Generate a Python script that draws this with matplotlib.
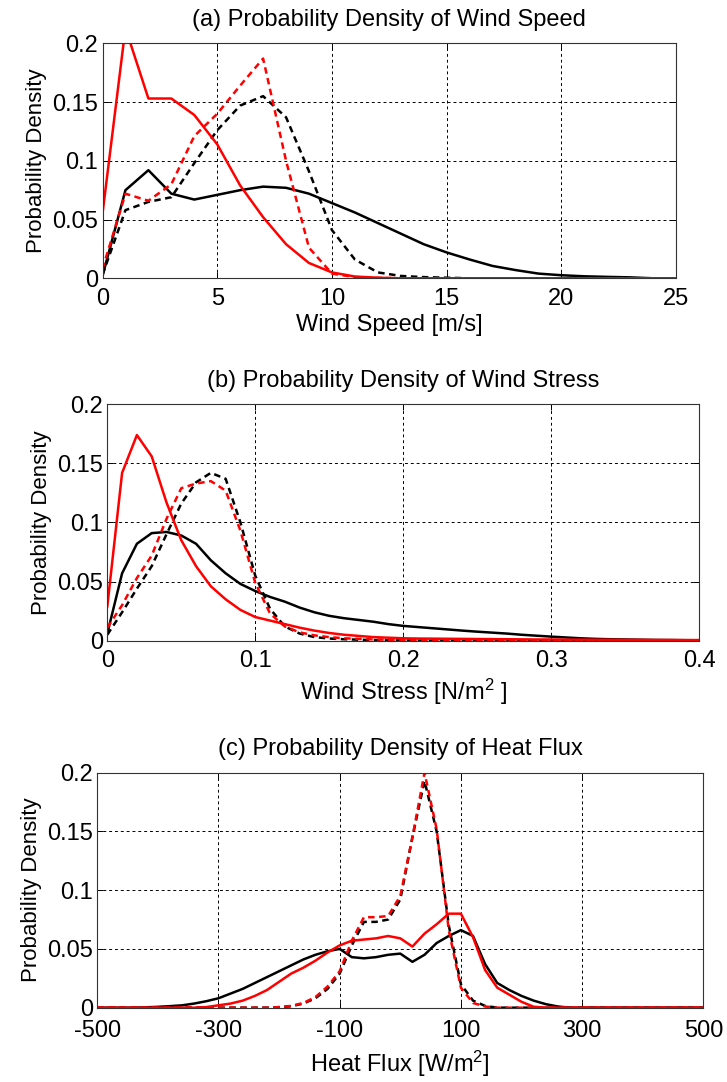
"""
Three stacked probability-density panels: wind speed, wind stress, heat flux.
Solid / dashed, black / red curves per panel.
"""
import numpy as np
import matplotlib
matplotlib.use("Agg")
import matplotlib.pyplot as plt

plt.rcParams["font.family"] = ["Liberation Sans", "DejaVu Sans"]
plt.rcParams["mathtext.fontset"] = "custom"
plt.rcParams["mathtext.rm"] = "Liberation Sans"
plt.rcParams["mathtext.it"] = "Liberation Sans:italic"

FS = 17      # titles, x labels, tick labels
FS_Y = 16    # y label

# ---- (a) wind speed, 1 m/s bins
speed_x = np.arange(0, 26, 1)
speed_black_solid = [0.002, 0.075, 0.092, 0.072, 0.067, 0.071, 0.075, 0.078, 0.077, 0.072,
                     0.064, 0.056, 0.047, 0.038, 0.029, 0.022, 0.016, 0.0105, 0.007, 0.004,
                     0.0026, 0.0017, 0.0012, 0.0008, 0, 0]
speed_black_dash = [0.003, 0.058, 0.065, 0.069, 0.098, 0.126, 0.147, 0.155, 0.137, 0.091,
                    0.041, 0.016, 0.005, 0.002, 0.001, 0.0005, 0, 0, 0, 0,
                    0, 0, 0, 0, 0, 0]
speed_red_solid = [0.055, 0.213, 0.153, 0.153, 0.139, 0.114, 0.079, 0.052, 0.029, 0.013,
                   0.005, 0.0015, 0.0005, 0, 0, 0, 0, 0, 0, 0,
                   0, 0, 0, 0, 0, 0]
speed_red_dash = [0.008, 0.072, 0.066, 0.080, 0.121, 0.140, 0.164, 0.187, 0.100, 0.026,
                  0.004, 0.001, 0.0003, 0, 0, 0, 0, 0, 0, 0,
                  0, 0, 0, 0, 0, 0]

# ---- (b) wind stress, 0.01 N/m^2 bins
stress_x = np.round(np.arange(0, 0.401, 0.01), 2)
stress_black_solid = [0.006, 0.057, 0.082, 0.091, 0.092, 0.089, 0.082, 0.068, 0.057, 0.048,
                      0.042, 0.037, 0.033, 0.028, 0.024, 0.021, 0.019, 0.0175, 0.016, 0.014,
                      0.0125, 0.0115, 0.0105, 0.0095, 0.0085, 0.0076, 0.0068, 0.006, 0.005, 0.0042,
                      0.0034, 0.0027, 0.002, 0.0015, 0.0012, 0.001, 0.0008, 0.0006, 0.0005, 0.0004,
                      0.0003]
stress_black_dash = [0.005, 0.024, 0.044, 0.063, 0.090, 0.116, 0.134, 0.142, 0.137, 0.100,
                     0.055, 0.027, 0.012, 0.006, 0.003, 0.0018, 0.0012, 0.0008, 0.0005, 0.0003,
                     0.0002, 0.0001, 0, 0, 0, 0, 0, 0, 0, 0,
                     0, 0, 0, 0, 0, 0, 0, 0, 0, 0,
                     0]
stress_red_solid = [0.029, 0.142, 0.174, 0.156, 0.117, 0.085, 0.063, 0.046, 0.035, 0.026,
                    0.020, 0.017, 0.014, 0.011, 0.0085, 0.0065, 0.005, 0.004, 0.003, 0.0025,
                    0.002, 0.0018, 0.0017, 0.0016, 0.0015, 0.0014, 0.0013, 0.0012, 0.0011, 0.001,
                    0.001, 0.0009, 0.0009, 0.0008, 0.0008, 0.0007, 0.0007, 0.0006, 0.0006, 0.0005,
                    0.0005]
stress_red_dash = [0.011, 0.030, 0.053, 0.072, 0.103, 0.129, 0.133, 0.135, 0.127, 0.093,
                   0.049, 0.023, 0.012, 0.007, 0.0045, 0.003, 0.002, 0.0015, 0.001, 0.0008,
                   0.0006, 0.0005, 0.0004, 0.0003, 0.0003, 0.0002, 0.0002, 0.0001, 0.0001, 0,
                   0, 0, 0, 0, 0, 0, 0, 0, 0, 0,
                   0]

# ---- (c) heat flux, 20 W/m^2 bins
heat_x = np.arange(-500, 501, 20)
heat_black_solid = [0, 0, 0, 0, 0.0003, 0.0007, 0.0013, 0.002, 0.0035, 0.0055,
                    0.008, 0.012, 0.016, 0.021, 0.026, 0.031, 0.036, 0.041, 0.045, 0.048,
                    0.050, 0.043, 0.042, 0.043, 0.045, 0.046, 0.039, 0.045, 0.055, 0.061,
                    0.066, 0.061, 0.037, 0.021, 0.015, 0.010, 0.006, 0.003, 0.001, 0,
                    0, 0, 0, 0, 0, 0, 0, 0, 0, 0, 0]
heat_black_dash = [0, 0, 0, 0, 0, 0, 0, 0, 0, 0,
                   0, 0, 0, 0, 0, 0.0004, 0.0012, 0.0035, 0.008, 0.016,
                   0.029, 0.053, 0.073, 0.073, 0.075, 0.092, 0.145, 0.193, 0.150, 0.070,
                   0.020, 0.006, 0.0015, 0, 0, 0, 0, 0, 0, 0,
                   0, 0, 0, 0, 0, 0, 0, 0, 0, 0, 0]
heat_red_solid = [0, 0, 0, 0, 0, 0, 0, 0, 0, 0.0005,
                  0.002, 0.0035, 0.006, 0.010, 0.015, 0.022, 0.029, 0.034, 0.040, 0.047,
                  0.053, 0.057, 0.058, 0.059, 0.061, 0.059, 0.052, 0.063, 0.071, 0.080,
                  0.080, 0.060, 0.032, 0.017, 0.011, 0.005, 0.0008, 0, 0, 0,
                  0, 0, 0, 0, 0, 0, 0, 0, 0, 0, 0]
heat_red_dash = [0, 0, 0, 0, 0, 0, 0, 0, 0, 0,
                 0, 0, 0, 0, 0, 0.0005, 0.0015, 0.004, 0.009, 0.018,
                 0.031, 0.057, 0.077, 0.077, 0.078, 0.095, 0.145, 0.200, 0.152, 0.066,
                 0.017, 0.004, 0.001, 0, 0, 0, 0, 0, 0, 0,
                 0, 0, 0, 0, 0, 0, 0, 0, 0, 0, 0]

y_ticks = [0, 0.05, 0.1, 0.15, 0.2]
y_ticklabels = ["0", "0.05", "0.1", "0.15", "0.2"]

LW = 1.8
DASH = (0, (2.6, 1.8))


def draw_panel(ax, x, bs, bd, rs, rd, xlim, xticks, xticklabels, title, xlabel,
               xpad=7, xlabelpad=3):
    ax.plot(x, bs, color="black", lw=LW)
    ax.plot(x, bd, color="black", lw=LW, ls=DASH)
    ax.plot(x, rs, color="red", lw=LW)
    ax.plot(x, rd, color="red", lw=LW, ls=DASH)

    ax.set_xlim(*xlim)
    ax.set_ylim(0, 0.2)
    ax.set_xticks(xticks)
    ax.set_xticklabels(xticklabels)
    ax.set_yticks(y_ticks)
    ax.set_yticklabels(y_ticklabels)
    ax.grid(True, color="black", lw=0.7, ls=(0, (3, 3)))
    ax.tick_params(direction="in", length=4, width=0.7, labelsize=FS,
                   top=True, right=True)
    ax.tick_params(axis="x", pad=xpad)
    ax.tick_params(axis="y", pad=3)
    for s in ax.spines.values():
        s.set_linewidth(0.8)
        s.set_color("#333333")
    ax.set_title(title, fontsize=FS, pad=12.5)
    ax.set_xlabel(xlabel, fontsize=FS, labelpad=xlabelpad)
    ax.set_ylabel("Probability Density", fontsize=FS_Y, labelpad=4)


fig = plt.figure(figsize=(7.27, 10.82), dpi=100)
ax_a = fig.add_axes([0.141, 0.7428, 0.789, 0.2172])
ax_b = fig.add_axes([0.1476, 0.4079, 0.8139, 0.2184])
ax_c = fig.add_axes([0.1338, 0.0687, 0.8336, 0.2172])

draw_panel(ax_a, speed_x, speed_black_solid, speed_black_dash, speed_red_solid, speed_red_dash,
           (0, 25), [0, 5, 10, 15, 20, 25], ["0", "5", "10", "15", "20", "25"],
           "(a) Probability Density of Wind Speed", "Wind Speed [m/s]")
draw_panel(ax_b, stress_x, stress_black_solid, stress_black_dash, stress_red_solid, stress_red_dash,
           (0, 0.4), [0, 0.1, 0.2, 0.3, 0.4], ["0", "0.1", "0.2", "0.3", "0.4"],
           "(b) Probability Density of Wind Stress", r"Wind Stress [N/m$^2$ ]")
draw_panel(ax_c, heat_x, heat_black_solid, heat_black_dash, heat_red_solid, heat_red_dash,
           (-500, 500), [-500, -300, -100, 100, 300, 500],
           ["-500", "-300", "-100", "100", "300", "500"],
           "(c) Probability Density of Heat Flux", r"Heat Flux [W/m$^2$]",
           xpad=9, xlabelpad=5)

fig.savefig("out.png", dpi=100)
plt.close(fig)
